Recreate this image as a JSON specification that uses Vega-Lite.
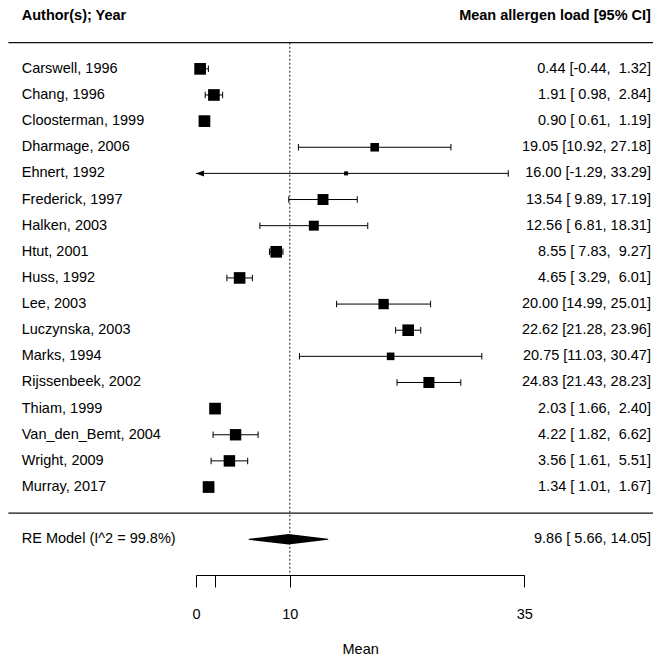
{
  "$schema": "https://vega.github.io/schema/vega-lite/v6.json",
  "width": 653,
  "height": 575,
  "autosize": {"type": "pad"},
  "padding": 0,
  "background": "white",
  "config": {
    "view": {"stroke": null},
    "font": "Liberation Sans",
    "text": {"font": "Liberation Sans", "fontSize": 14.5, "color": "#000"},
    "axis": {
      "grid": false,
      "domainColor": "#000",
      "domainWidth": 1,
      "tickColor": "#000",
      "tickWidth": 1,
      "tickSize": 12,
      "labelFont": "Liberation Sans",
      "labelFontSize": 14.5,
      "labelColor": "#000",
      "labelPadding": 20,
      "labelFlush": false,
      "labelOverlap": false,
      "titleFont": "Liberation Sans",
      "titleFontSize": 14.5,
      "titleFontWeight": "normal",
      "titleColor": "#000",
      "titlePadding": 22
    }
  },
  "datasets": {
    "studies": [
      {"study": "Carswell, 1996", "mean": 0.44, "lower": -0.44, "upper": 1.32, "weight": 6.37},
      {"study": "Chang, 1996", "mean": 1.91, "lower": 0.98, "upper": 2.84, "weight": 6.36},
      {"study": "Cloosterman, 1999", "mean": 0.90, "lower": 0.61, "upper": 1.19, "weight": 6.38},
      {"study": "Dharmage, 2006", "mean": 19.05, "lower": 10.92, "upper": 27.18, "weight": 5.18},
      {"study": "Ehnert, 1992", "mean": 16.00, "lower": -1.29, "upper": 33.29, "weight": 3.11},
      {"study": "Frederick, 1997", "mean": 13.54, "lower": 9.89, "upper": 17.19, "weight": 6.10},
      {"study": "Halken, 2003", "mean": 12.56, "lower": 6.81, "upper": 18.31, "weight": 5.72},
      {"study": "Htut, 2001", "mean": 8.55, "lower": 7.83, "upper": 9.27, "weight": 6.37},
      {"study": "Huss, 1992", "mean": 4.65, "lower": 3.29, "upper": 6.01, "weight": 6.34},
      {"study": "Lee, 2003", "mean": 20.00, "lower": 14.99, "upper": 25.01, "weight": 5.87},
      {"study": "Luczynska, 2003", "mean": 22.62, "lower": 21.28, "upper": 23.96, "weight": 6.34},
      {"study": "Marks, 1994", "mean": 20.75, "lower": 11.03, "upper": 30.47, "weight": 4.79},
      {"study": "Rijssenbeek, 2002", "mean": 24.83, "lower": 21.43, "upper": 28.23, "weight": 6.13},
      {"study": "Thiam, 1999", "mean": 2.03, "lower": 1.66, "upper": 2.40, "weight": 6.38},
      {"study": "Van_den_Bemt, 2004", "mean": 4.22, "lower": 1.82, "upper": 6.62, "weight": 6.26},
      {"study": "Wright, 2009", "mean": 3.56, "lower": 1.61, "upper": 5.51, "weight": 6.30},
      {"study": "Murray, 2017", "mean": 1.34, "lower": 1.01, "upper": 1.67, "weight": 6.38}
    ],
    "pooled": [
      {"study": "RE Model (I^2 = 99.8%)", "mean": 9.86, "lower": 5.66, "upper": 14.05}
    ],
    "separators": [
      {"line": "sep_top"},
      {"line": "sep_bottom"}
    ],
    "headers": [
      {"line": "hdr", "left": "Author(s); Year", "right": "Mean allergen load [95% CI]"}
    ]
  },
  "layer": [
    {
      "data": {"name": "separators"},
      "mark": {"type": "rule", "color": "#111", "strokeWidth": 1.3},
      "encoding": {
        "x": {"datum": -20, "type": "quantitative", "scale": {"domain": [0, 35], "range": [196, 524.3], "nice": false, "zero": false}, "axis": {"values": [0, 2, 10, 35], "labelExpr": "datum.value == 2 ? '' : datum.label", "title": "Mean"}},
        "x2": {"datum": 48.72},
        "y": {"field": "line", "type": "ordinal", "scale": {"type": "point", "domain": ["hdr", "sep_top", "Carswell, 1996", "Chang, 1996", "Cloosterman, 1999", "Dharmage, 2006", "Ehnert, 1992", "Frederick, 1997", "Halken, 2003", "Htut, 2001", "Huss, 1992", "Lee, 2003", "Luczynska, 2003", "Marks, 1994", "Rijssenbeek, 2002", "Thiam, 1999", "Van_den_Bemt, 2004", "Wright, 2009", "Murray, 2017", "sep_bottom", "RE Model (I^2 = 99.8%)"], "padding": 1.0156, "align": 0.317}, "axis": null}
      }
    },
    {
      "data": {"values": [{}]},
      "mark": {"type": "rule", "color": "#222", "strokeWidth": 1, "strokeDash": [2, 2]},
      "encoding": {
        "x": {"datum": 10, "type": "quantitative", "scale": {"domain": [0, 35], "range": [196, 524.3], "nice": false, "zero": false}, "axis": {"values": [0, 2, 10, 35], "labelExpr": "datum.value == 2 ? '' : datum.label", "title": "Mean"}},
        "y": {"datum": "sep_top", "type": "ordinal", "scale": {"type": "point", "domain": ["hdr", "sep_top", "Carswell, 1996", "Chang, 1996", "Cloosterman, 1999", "Dharmage, 2006", "Ehnert, 1992", "Frederick, 1997", "Halken, 2003", "Htut, 2001", "Huss, 1992", "Lee, 2003", "Luczynska, 2003", "Marks, 1994", "Rijssenbeek, 2002", "Thiam, 1999", "Van_den_Bemt, 2004", "Wright, 2009", "Murray, 2017", "sep_bottom", "RE Model (I^2 = 99.8%)"], "padding": 1.0156, "align": 0.317}, "axis": null},
        "y2": {"value": "height"}
      }
    },
    {
      "data": {"name": "studies"},
      "transform": [{"calculate": "max(datum.lower, 0)", "as": "lower_shown"}],
      "mark": {"type": "rule", "color": "#000", "strokeWidth": 1},
      "encoding": {
        "x": {"field": "lower_shown", "type": "quantitative", "scale": {"domain": [0, 35], "range": [196, 524.3], "nice": false, "zero": false}, "axis": {"values": [0, 2, 10, 35], "labelExpr": "datum.value == 2 ? '' : datum.label", "title": "Mean"}},
        "x2": {"field": "upper"},
        "y": {"field": "study", "type": "ordinal", "scale": {"type": "point", "domain": ["hdr", "sep_top", "Carswell, 1996", "Chang, 1996", "Cloosterman, 1999", "Dharmage, 2006", "Ehnert, 1992", "Frederick, 1997", "Halken, 2003", "Htut, 2001", "Huss, 1992", "Lee, 2003", "Luczynska, 2003", "Marks, 1994", "Rijssenbeek, 2002", "Thiam, 1999", "Van_den_Bemt, 2004", "Wright, 2009", "Murray, 2017", "sep_bottom", "RE Model (I^2 = 99.8%)"], "padding": 1.0156, "align": 0.317}, "axis": null}
      }
    },
    {
      "data": {"name": "studies"},
      "mark": {"type": "tick", "orient": "vertical", "size": 6.5, "thickness": 1, "color": "#000", "opacity": 1},
      "encoding": {
        "x": {"field": "upper", "type": "quantitative", "scale": {"domain": [0, 35], "range": [196, 524.3], "nice": false, "zero": false}, "axis": {"values": [0, 2, 10, 35], "labelExpr": "datum.value == 2 ? '' : datum.label", "title": "Mean"}},
        "y": {"field": "study", "type": "ordinal", "scale": {"type": "point", "domain": ["hdr", "sep_top", "Carswell, 1996", "Chang, 1996", "Cloosterman, 1999", "Dharmage, 2006", "Ehnert, 1992", "Frederick, 1997", "Halken, 2003", "Htut, 2001", "Huss, 1992", "Lee, 2003", "Luczynska, 2003", "Marks, 1994", "Rijssenbeek, 2002", "Thiam, 1999", "Van_den_Bemt, 2004", "Wright, 2009", "Murray, 2017", "sep_bottom", "RE Model (I^2 = 99.8%)"], "padding": 1.0156, "align": 0.317}, "axis": null}
      }
    },
    {
      "data": {"name": "studies"},
      "transform": [{"filter": "datum.lower >= 0"}],
      "mark": {"type": "tick", "orient": "vertical", "size": 6.5, "thickness": 1, "color": "#000", "opacity": 1},
      "encoding": {
        "x": {"field": "lower", "type": "quantitative", "scale": {"domain": [0, 35], "range": [196, 524.3], "nice": false, "zero": false}, "axis": {"values": [0, 2, 10, 35], "labelExpr": "datum.value == 2 ? '' : datum.label", "title": "Mean"}},
        "y": {"field": "study", "type": "ordinal", "scale": {"type": "point", "domain": ["hdr", "sep_top", "Carswell, 1996", "Chang, 1996", "Cloosterman, 1999", "Dharmage, 2006", "Ehnert, 1992", "Frederick, 1997", "Halken, 2003", "Htut, 2001", "Huss, 1992", "Lee, 2003", "Luczynska, 2003", "Marks, 1994", "Rijssenbeek, 2002", "Thiam, 1999", "Van_den_Bemt, 2004", "Wright, 2009", "Murray, 2017", "sep_bottom", "RE Model (I^2 = 99.8%)"], "padding": 1.0156, "align": 0.317}, "axis": null}
      }
    },
    {
      "data": {"name": "studies"},
      "transform": [
        {"filter": "datum.lower < 0"},
        {"calculate": "max(datum.lower, 0)", "as": "lower_shown"}
      ],
      "mark": {"type": "point", "shape": "M0,0L2,-0.75L2,0.75Z", "size": 64, "filled": true, "color": "#000", "opacity": 1},
      "encoding": {
        "x": {"field": "lower_shown", "type": "quantitative", "scale": {"domain": [0, 35], "range": [196, 524.3], "nice": false, "zero": false}, "axis": {"values": [0, 2, 10, 35], "labelExpr": "datum.value == 2 ? '' : datum.label", "title": "Mean"}},
        "y": {"field": "study", "type": "ordinal", "scale": {"type": "point", "domain": ["hdr", "sep_top", "Carswell, 1996", "Chang, 1996", "Cloosterman, 1999", "Dharmage, 2006", "Ehnert, 1992", "Frederick, 1997", "Halken, 2003", "Htut, 2001", "Huss, 1992", "Lee, 2003", "Luczynska, 2003", "Marks, 1994", "Rijssenbeek, 2002", "Thiam, 1999", "Van_den_Bemt, 2004", "Wright, 2009", "Murray, 2017", "sep_bottom", "RE Model (I^2 = 99.8%)"], "padding": 1.0156, "align": 0.317}, "axis": null}
      }
    },
    {
      "data": {"name": "studies"},
      "mark": {"type": "point", "shape": "square", "filled": true, "color": "#000", "opacity": 1},
      "encoding": {
        "x": {"field": "mean", "type": "quantitative", "scale": {"domain": [0, 35], "range": [196, 524.3], "nice": false, "zero": false}, "axis": {"values": [0, 2, 10, 35], "labelExpr": "datum.value == 2 ? '' : datum.label", "title": "Mean"}},
        "y": {"field": "study", "type": "ordinal", "scale": {"type": "point", "domain": ["hdr", "sep_top", "Carswell, 1996", "Chang, 1996", "Cloosterman, 1999", "Dharmage, 2006", "Ehnert, 1992", "Frederick, 1997", "Halken, 2003", "Htut, 2001", "Huss, 1992", "Lee, 2003", "Luczynska, 2003", "Marks, 1994", "Rijssenbeek, 2002", "Thiam, 1999", "Van_den_Bemt, 2004", "Wright, 2009", "Murray, 2017", "sep_bottom", "RE Model (I^2 = 99.8%)"], "padding": 1.0156, "align": 0.317}, "axis": null},
        "size": {"field": "weight", "type": "quantitative", "scale": {"type": "pow", "exponent": 3, "domain": [3.11, 6.38], "range": [16, 137]}, "legend": null}
      }
    },
    {
      "data": {"name": "studies"},
      "mark": {"type": "text", "align": "left", "baseline": "middle"},
      "encoding": {
        "x": {"datum": -18.58, "type": "quantitative", "scale": {"domain": [0, 35], "range": [196, 524.3], "nice": false, "zero": false}, "axis": {"values": [0, 2, 10, 35], "labelExpr": "datum.value == 2 ? '' : datum.label", "title": "Mean"}},
        "y": {"field": "study", "type": "ordinal", "scale": {"type": "point", "domain": ["hdr", "sep_top", "Carswell, 1996", "Chang, 1996", "Cloosterman, 1999", "Dharmage, 2006", "Ehnert, 1992", "Frederick, 1997", "Halken, 2003", "Htut, 2001", "Huss, 1992", "Lee, 2003", "Luczynska, 2003", "Marks, 1994", "Rijssenbeek, 2002", "Thiam, 1999", "Van_den_Bemt, 2004", "Wright, 2009", "Murray, 2017", "sep_bottom", "RE Model (I^2 = 99.8%)"], "padding": 1.0156, "align": 0.317}, "axis": null},
        "text": {"field": "study"}
      }
    },
    {
      "data": {"name": "studies"},
      "transform": [{"calculate": "replace(format(datum.mean, '.2f'), '\u2212', '-') + ' [' + pad(replace(format(datum.lower, '.2f'), '\u2212', '-'), 5, '\u00a0', 'left') + ', ' + pad(replace(format(datum.upper, '.2f'), '\u2212', '-'), 5, '\u00a0', 'left') + ']'", "as": "ci_text"}],
      "mark": {"type": "text", "align": "right", "baseline": "middle"},
      "encoding": {
        "x": {"datum": 48.5, "type": "quantitative", "scale": {"domain": [0, 35], "range": [196, 524.3], "nice": false, "zero": false}, "axis": {"values": [0, 2, 10, 35], "labelExpr": "datum.value == 2 ? '' : datum.label", "title": "Mean"}},
        "y": {"field": "study", "type": "ordinal", "scale": {"type": "point", "domain": ["hdr", "sep_top", "Carswell, 1996", "Chang, 1996", "Cloosterman, 1999", "Dharmage, 2006", "Ehnert, 1992", "Frederick, 1997", "Halken, 2003", "Htut, 2001", "Huss, 1992", "Lee, 2003", "Luczynska, 2003", "Marks, 1994", "Rijssenbeek, 2002", "Thiam, 1999", "Van_den_Bemt, 2004", "Wright, 2009", "Murray, 2017", "sep_bottom", "RE Model (I^2 = 99.8%)"], "padding": 1.0156, "align": 0.317}, "axis": null},
        "text": {"field": "ci_text"}
      }
    },
    {
      "data": {"name": "pooled"},
      "transform": [{"fold": ["lower", "mean", "upper"], "as": ["point", "value"]}],
      "mark": {"type": "trail", "color": "#000", "opacity": 1},
      "encoding": {
        "x": {"field": "value", "type": "quantitative", "scale": {"domain": [0, 35], "range": [196, 524.3], "nice": false, "zero": false}, "axis": {"values": [0, 2, 10, 35], "labelExpr": "datum.value == 2 ? '' : datum.label", "title": "Mean"}},
        "y": {"field": "study", "type": "ordinal", "scale": {"type": "point", "domain": ["hdr", "sep_top", "Carswell, 1996", "Chang, 1996", "Cloosterman, 1999", "Dharmage, 2006", "Ehnert, 1992", "Frederick, 1997", "Halken, 2003", "Htut, 2001", "Huss, 1992", "Lee, 2003", "Luczynska, 2003", "Marks, 1994", "Rijssenbeek, 2002", "Thiam, 1999", "Van_den_Bemt, 2004", "Wright, 2009", "Murray, 2017", "sep_bottom", "RE Model (I^2 = 99.8%)"], "padding": 1.0156, "align": 0.317}, "axis": null},
        "size": {"field": "point", "type": "nominal", "scale": {"type": "ordinal", "domain": ["lower", "mean", "upper"], "range": [0, 10.5, 0]}, "legend": null},
        "order": {"field": "value", "type": "quantitative"}
      }
    },
    {
      "data": {"name": "pooled"},
      "mark": {"type": "text", "align": "left", "baseline": "middle"},
      "encoding": {
        "x": {"datum": -18.58, "type": "quantitative", "scale": {"domain": [0, 35], "range": [196, 524.3], "nice": false, "zero": false}, "axis": {"values": [0, 2, 10, 35], "labelExpr": "datum.value == 2 ? '' : datum.label", "title": "Mean"}},
        "y": {"field": "study", "type": "ordinal", "scale": {"type": "point", "domain": ["hdr", "sep_top", "Carswell, 1996", "Chang, 1996", "Cloosterman, 1999", "Dharmage, 2006", "Ehnert, 1992", "Frederick, 1997", "Halken, 2003", "Htut, 2001", "Huss, 1992", "Lee, 2003", "Luczynska, 2003", "Marks, 1994", "Rijssenbeek, 2002", "Thiam, 1999", "Van_den_Bemt, 2004", "Wright, 2009", "Murray, 2017", "sep_bottom", "RE Model (I^2 = 99.8%)"], "padding": 1.0156, "align": 0.317}, "axis": null},
        "text": {"field": "study"}
      }
    },
    {
      "data": {"name": "pooled"},
      "transform": [{"calculate": "replace(format(datum.mean, '.2f'), '\u2212', '-') + ' [' + pad(replace(format(datum.lower, '.2f'), '\u2212', '-'), 5, '\u00a0', 'left') + ', ' + pad(replace(format(datum.upper, '.2f'), '\u2212', '-'), 5, '\u00a0', 'left') + ']'", "as": "ci_text"}],
      "mark": {"type": "text", "align": "right", "baseline": "middle"},
      "encoding": {
        "x": {"datum": 48.5, "type": "quantitative", "scale": {"domain": [0, 35], "range": [196, 524.3], "nice": false, "zero": false}, "axis": {"values": [0, 2, 10, 35], "labelExpr": "datum.value == 2 ? '' : datum.label", "title": "Mean"}},
        "y": {"field": "study", "type": "ordinal", "scale": {"type": "point", "domain": ["hdr", "sep_top", "Carswell, 1996", "Chang, 1996", "Cloosterman, 1999", "Dharmage, 2006", "Ehnert, 1992", "Frederick, 1997", "Halken, 2003", "Htut, 2001", "Huss, 1992", "Lee, 2003", "Luczynska, 2003", "Marks, 1994", "Rijssenbeek, 2002", "Thiam, 1999", "Van_den_Bemt, 2004", "Wright, 2009", "Murray, 2017", "sep_bottom", "RE Model (I^2 = 99.8%)"], "padding": 1.0156, "align": 0.317}, "axis": null},
        "text": {"field": "ci_text"}
      }
    },
    {
      "data": {"name": "headers"},
      "mark": {"type": "text", "align": "left", "baseline": "middle", "fontWeight": "bold", "dy": -1},
      "encoding": {
        "x": {"datum": -18.58, "type": "quantitative", "scale": {"domain": [0, 35], "range": [196, 524.3], "nice": false, "zero": false}, "axis": {"values": [0, 2, 10, 35], "labelExpr": "datum.value == 2 ? '' : datum.label", "title": "Mean"}},
        "y": {"field": "line", "type": "ordinal", "scale": {"type": "point", "domain": ["hdr", "sep_top", "Carswell, 1996", "Chang, 1996", "Cloosterman, 1999", "Dharmage, 2006", "Ehnert, 1992", "Frederick, 1997", "Halken, 2003", "Htut, 2001", "Huss, 1992", "Lee, 2003", "Luczynska, 2003", "Marks, 1994", "Rijssenbeek, 2002", "Thiam, 1999", "Van_den_Bemt, 2004", "Wright, 2009", "Murray, 2017", "sep_bottom", "RE Model (I^2 = 99.8%)"], "padding": 1.0156, "align": 0.317}, "axis": null},
        "text": {"field": "left"}
      }
    },
    {
      "data": {"name": "headers"},
      "mark": {"type": "text", "align": "right", "baseline": "middle", "fontWeight": "bold", "dy": -1},
      "encoding": {
        "x": {"datum": 48.5, "type": "quantitative", "scale": {"domain": [0, 35], "range": [196, 524.3], "nice": false, "zero": false}, "axis": {"values": [0, 2, 10, 35], "labelExpr": "datum.value == 2 ? '' : datum.label", "title": "Mean"}},
        "y": {"field": "line", "type": "ordinal", "scale": {"type": "point", "domain": ["hdr", "sep_top", "Carswell, 1996", "Chang, 1996", "Cloosterman, 1999", "Dharmage, 2006", "Ehnert, 1992", "Frederick, 1997", "Halken, 2003", "Htut, 2001", "Huss, 1992", "Lee, 2003", "Luczynska, 2003", "Marks, 1994", "Rijssenbeek, 2002", "Thiam, 1999", "Van_den_Bemt, 2004", "Wright, 2009", "Murray, 2017", "sep_bottom", "RE Model (I^2 = 99.8%)"], "padding": 1.0156, "align": 0.317}, "axis": null},
        "text": {"field": "right"}
      }
    }
  ]
}
